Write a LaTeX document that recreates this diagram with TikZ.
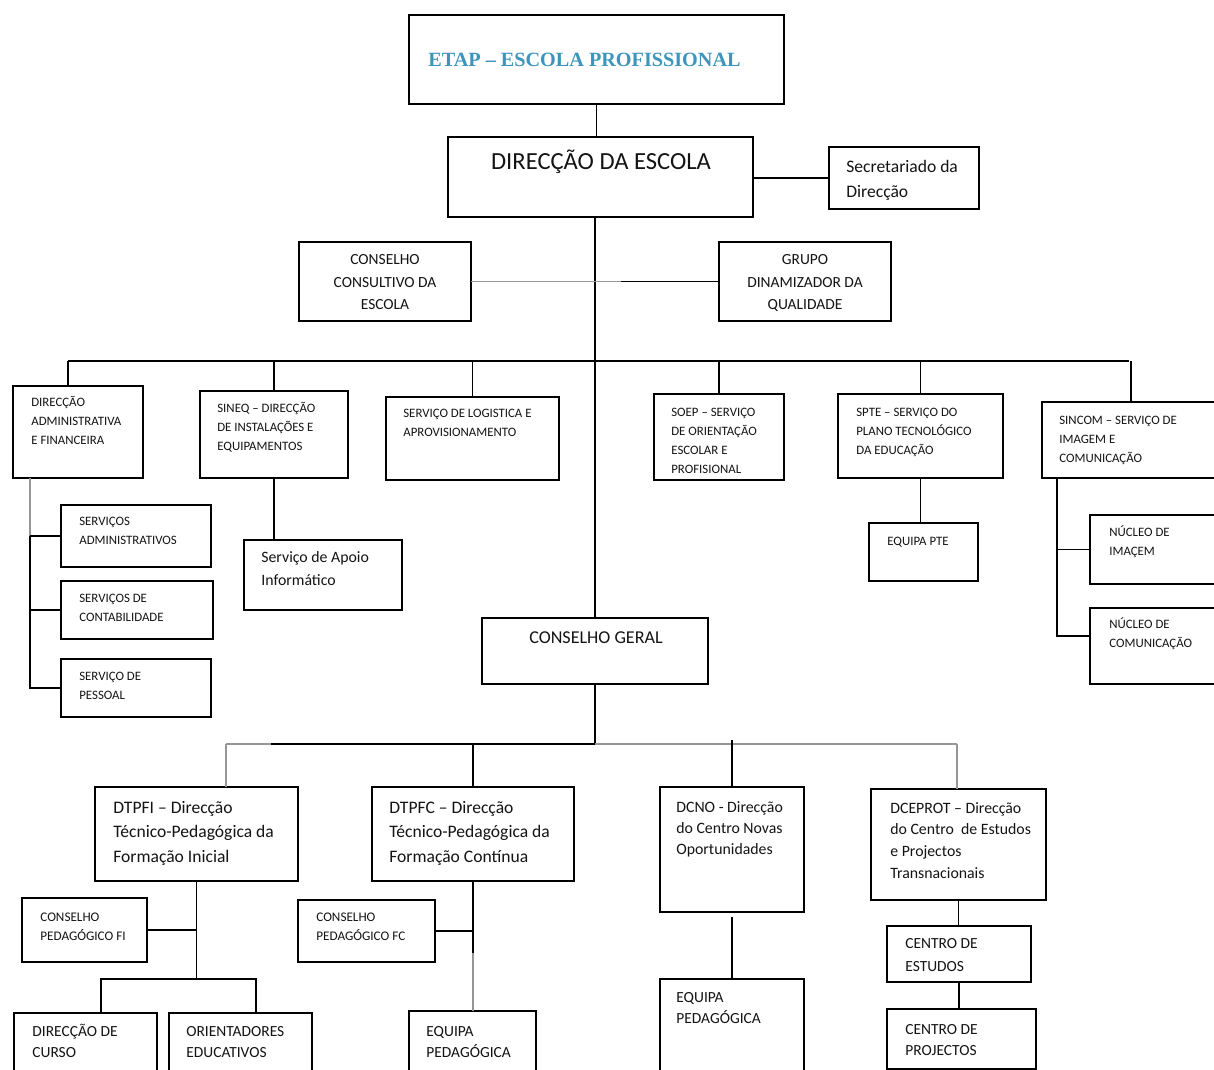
\documentclass[tikz,border=0pt]{standalone}
\usepackage{fontspec}
\setmainfont{Carlito}
\newfontfamily\titlefont{Liberation Serif}
\usetikzlibrary{fit,calc}
\definecolor{lg}{RGB}{150,150,150}
\definecolor{teal1}{RGB}{60,150,188}
\newcommand\fs[2]{\fontsize{#1}{#2}\selectfont}
\newcommand\fsm{\fs{7.3}{10.7}}
\newcommand\bx[5]{\node[box,fit={(#2,#3)(#4,#5)}] (#1) {};}
\newcommand\txtl[5]{\node[txt,font=#2,anchor=base west] (#1) at (#3,#4) {\begin{tabular}[t]{@{}l@{}}#5\end{tabular}};}
\newcommand\txtc[5]{\node[txt,font=#2,anchor=base] (#1) at (#3,#4) {\begin{tabular}[t]{@{}c@{}}#5\end{tabular}};}
\begin{document}
\begin{tikzpicture}[x=0.02cm,y=-0.02cm,
 box/.style={draw,line width=1pt,inner sep=0pt,outer sep=0pt},
 txt/.style={inner sep=0pt,text=black!92},
 con/.style={line width=0.9pt},
 gcon/.style={line width=0.9pt,draw=lg}]
\useasboundingbox (0,0) rectangle (1214,1070);
\clip (0,0) rectangle (1214,1070);
\fill[white] (0,0) rectangle (1214,1070);
% boxes
\bx{etap}{409}{15}{784}{104}
\bx{dir}{448}{137}{753}{217}
\bx{sec}{829}{147}{979}{209}
\bx{cce}{299}{242}{471}{321}
\bx{gdq}{719}{242}{891}{321}
\bx{daf}{13}{386}{143}{478}
\bx{sineq}{200}{391}{348}{478}
\bx{logi}{386}{397}{559}{480}
\bx{soep}{654}{394}{784}{480}
\bx{spte}{838}{394}{1003}{478}
\bx{sincom}{1042}{402}{1220}{478}
\bx{sa}{61}{505}{211}{567}
\bx{sc}{61}{581}{213}{639}
\bx{sp}{61}{659}{211}{717}
\bx{apoio}{244}{540}{402}{610}
\bx{epte}{869}{523}{978}{581}
\bx{ni}{1090}{515}{1220}{584}
\bx{nc}{1090}{608}{1220}{684}
\bx{cg}{482}{618}{708}{684}
\bx{dtpfi}{95}{787}{298}{881}
\bx{dtpfc}{372}{787}{574}{881}
\bx{dcno}{660}{787}{804}{912}
\bx{dceprot}{871}{789}{1046}{900}
\bx{cpfi}{22}{898}{147}{962}
\bx{cpfc}{298}{900}{435}{962}
\bx{dc}{14}{1013}{157}{1090}
\bx{oe}{169}{1013}{312}{1090}
\bx{epa}{409}{1011}{536}{1090}
\bx{epb}{660}{979}{804}{1090}
\bx{ce}{887}{926}{1031}{982}
\bx{cp}{887}{1009}{1036}{1069}
% connectors upper
\draw[con] (etap.south) -- (etap.south |- dir.north);
\draw[con] (cg.north |- dir.south) -- (cg.north);
\draw[con] (dir.east |- sec.west) -- (sec.west);
\draw[con] (cce.east) -- (gdq.west);
\draw[gcon] (cce.east) -- ($(cce.east)+(150,0)$);
\coordinate (busL) at (68,361);
\coordinate (busR) at (1129,361);
\draw[con] (busL) -- (busR);
\draw[con] (busL) -- (busL |- daf.north);
\foreach \n in {sineq,logi,soep,spte,sincom} \draw[con] (\n.north |- busL) -- (\n.north);
\coordinate (dx) at (30,478);
\draw[gcon] (dx) -- (dx |- sa.west);
\draw[con] (dx |- sa.west) -- (dx |- sp.west) -- (sp.west);
\draw[con] (dx |- sa.west) -- (sa.west);
\draw[con] (dx |- sc.west) -- (sc.west);
\draw[con] (sineq.south) -- (sineq.south |- apoio.north);
\draw[con] (spte.south) -- (spte.south |- epte.north);
\coordinate (sx) at (1057,478);
\coordinate (nctick) at ($(nc.west)+(0,-10)$);
\draw[con] (sx) |- (nctick);
\draw[con] (sx |- ni.west) -- (ni.west);
% connectors lower
\coordinate (lbL) at (226,744);
\coordinate (lbR) at (957,744);
\draw[con] (cg.south) -- (cg.south |- lbL);
\draw[con] (lbL) -- (lbR);
\draw[gcon] (cg.south |- lbL) -- (lbR);
\draw[gcon] (lbL) -- ++(45,0);
\draw[gcon] (lbL) -- (lbL |- dtpfi.north);
\draw[con] (dtpfc.north |- lbL) -- (dtpfc.north);
\draw[con] ($(dcno.north |- lbL)+(0,-4)$) -- (dcno.north);
\draw[gcon] (lbR) -- (lbR |- dceprot.north);
\coordinate (sbL) at (101,979);
\coordinate (sbR) at (256,979);
\draw[con] (dtpfi.south) -- (dtpfi.south |- sbL);
\draw[con] (cpfi.east) -- (cpfi.east -| dtpfi.south);
\draw[con] (sbL |- dc.north) -- (sbL) -- (sbR) -- (sbR |- oe.north);
\draw[con] (cpfc.east) -- (cpfc.east -| dtpfc.south);
\draw[con] (dtpfc.south) -- ($(dtpfc.south)+(0,72)$);
\draw[gcon] ($(dtpfc.south)+(0,72)$) -- (dtpfc.south |- epa.north);
\draw[con,shorten <=3pt] (dcno.south) -- (dcno.south |- epb.north);
\draw[con] (dceprot.south) -- (dceprot.south |- ce.north);
\draw[con] (ce.south) -- (ce.south |- cp.north);
% texts
\txtl{etapt}{\titlefont\bfseries\fs{11.5}{14}}{428}{67}{\color{teal1}ETAP – ESCOLA PROFISSIONAL}
\txtc{dirt}{\fs{14}{16}}{601}{170}{DIRECÇÃO DA ESCOLA}
\txtl{sect}{\fs{10}{14.2}}{846}{173}{Secretariado da\\Direcção}
\txtc{ccet}{\fs{8.8}{12.8}}{385}{265}{CONSELHO\\CONSULTIVO DA\\ESCOLA}
\txtc{gdqt}{\fs{8.8}{12.8}}{805}{265}{GRUPO\\DINAMIZADOR DA\\QUALIDADE}
\txtl{daft}{\fsm}{31}{407}{DIRECÇÃO\\ADMINISTRATIVA\\E FINANCEIRA}
\txtl{sineqt}{\fsm}{217}{413}{SINEQ – DIRECÇÃO\\DE INSTALAÇÕES E\\EQUIPAMENTOS}
\txtl{logt}{\fsm}{403}{418}{SERVIÇO DE LOGISTICA E\\APROVISIONAMENTO}
\txtl{soept}{\fsm}{671}{417}{SOEP – SERVIÇO\\DE ORIENTAÇÃO\\ESCOLAR E\\PROFISIONAL}
\txtl{sptet}{\fsm}{856}{417}{SPTE – SERVIÇO DO\\PLANO TECNOLÓGICO\\DA EDUCAÇÃO}
\txtl{sincomt}{\fsm}{1059}{425}{SINCOM – SERVIÇO DE\\IMAGEM E\\COMUNICAÇÃO}
\txtl{sat}{\fsm}{79}{526}{SERVIÇOS\\ADMINISTRATIVOS}
\txtl{sct}{\fsm}{79}{603}{SERVIÇOS DE\\CONTABILIDADE}
\txtl{spt}{\fsm}{79}{681}{SERVIÇO DE\\PESSOAL}
\txtl{apoiot}{\fs{9}{13}}{261}{563}{Serviço de Apoio\\Informático}
\txtl{eptet}{\fsm}{887}{546}{EQUIPA PTE}
\txtl{nit}{\fsm}{1109}{537}{NÚCLEO DE\\IMAÇEM}
\txtl{nct}{\fsm}{1109}{629}{NÚCLEO DE\\COMUNICAÇÃO}
\txtc{cgt}{\fs{10.3}{12}}{596}{644}{CONSELHO GERAL}
\txtl{dtpfit}{\fs{10}{14.2}}{113}{813}{DTPFI – Direcção\\Técnico-Pedagógica da\\Formação Inicial}
\txtl{dtpfct}{\fs{10}{14.2}}{389}{813}{DTPFC – Direcção\\Técnico-Pedagógica da\\Formação Contínua}
\txtl{dcnot}{\fs{9}{12.2}}{676}{812}{DCNO - Direcção\\do Centro Novas\\Oportunidades}
\txtl{dceprott}{\fs{9}{12.5}}{890}{813}{DCEPROT – Direcção\\do Centro~~de Estudos\\e Projectos\\Transnacionais}
\txtl{cpfit}{\fs{7.5}{11}}{40}{921}{CONSELHO\\PEDAGÓGICO FI}
\txtl{cpfct}{\fs{7.5}{11.3}}{316}{921}{CONSELHO\\PEDAGÓGICO FC}
\txtl{dct}{\fs{8.8}{12.5}}{32}{1036}{DIRECÇÃO DE\\CURSO}
\txtl{oet}{\fs{8.8}{12.5}}{186}{1036}{ORIENTADORES\\EDUCATIVOS}
\txtl{epat}{\fs{8.8}{12}}{426}{1036}{EQUIPA\\PEDAGÓGICA}
\txtl{epbt}{\fs{8.8}{12}}{676}{1002}{EQUIPA\\PEDAGÓGICA}
\txtl{cet}{\fs{8.8}{13.6}}{905}{948}{CENTRO DE\\ESTUDOS}
\txtl{cpt}{\fs{8.8}{12}}{905}{1034}{CENTRO DE\\PROJECTOS}
\end{tikzpicture}
\end{document}
